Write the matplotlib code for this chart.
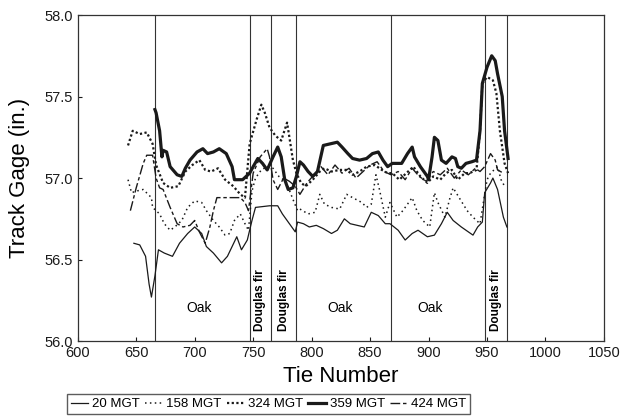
import matplotlib
matplotlib.use('Agg')
import matplotlib.pyplot as plt

plt.rcParams['font.family'] = ['Liberation Sans', 'DejaVu Sans']

# 20 MGT
x20 = [648, 653, 658, 661, 663, 666, 669, 674, 681, 687, 694, 700, 706, 710, 716, 723, 728, 736, 740, 745, 749,
       752, 764, 771, 775, 781, 786, 788, 793, 798, 804, 810, 817, 822, 828, 833, 839, 845, 851, 857, 863, 867,
       874, 880, 886, 891, 899, 905, 911, 916, 921, 928, 934, 938, 942, 946, 948, 953, 955, 959, 964, 967]
y20 = [56.60, 56.59, 56.52, 56.35, 56.27, 56.40, 56.56, 56.54, 56.52, 56.60, 56.66, 56.70, 56.66, 56.58, 56.54,
       56.48, 56.52, 56.64, 56.56, 56.62, 56.74, 56.82, 56.83, 56.83, 56.78, 56.72, 56.67, 56.73, 56.72, 56.70,
       56.71, 56.69, 56.66, 56.68, 56.75, 56.72, 56.71, 56.70, 56.79, 56.77, 56.72, 56.72, 56.68, 56.62, 56.66,
       56.68, 56.64, 56.65, 56.72, 56.79, 56.74, 56.70, 56.67, 56.65, 56.70, 56.73, 56.91, 56.97, 57.00, 56.93,
       56.76, 56.70]

# 158 MGT
x158 = [643, 646, 650, 656, 663, 664, 670, 674, 679, 683, 689, 694, 700, 706, 710, 716, 721, 726, 730, 734,
        739, 743, 746, 749, 752, 757, 762, 767, 772, 778, 784, 788, 790, 797, 803, 807, 811, 817, 824, 830,
        835, 843, 847, 851, 855, 858, 863, 867, 873, 878, 886, 890, 895, 901, 905, 908, 914, 918, 921, 927,
        933, 938, 944, 950, 953, 959, 962, 965]
y158 = [56.99, 56.91, 56.92, 56.93, 56.88, 56.82, 56.78, 56.72, 56.68, 56.70, 56.74, 56.82, 56.86, 56.85, 56.80,
        56.74, 56.70, 56.65, 56.66, 56.74, 56.78, 56.72, 56.68, 56.92, 57.00, 57.05, 57.07, 57.06, 57.01, 56.98,
        56.87, 56.80, 56.81, 56.78, 56.79, 56.90, 56.84, 56.82, 56.81, 56.90, 56.88, 56.85, 56.82, 56.84, 57.02,
        56.93, 56.76, 56.85, 56.76, 56.80, 56.88, 56.80, 56.74, 56.70, 56.91, 56.85, 56.76, 56.87, 56.94, 56.87,
        56.80, 56.76, 56.72, 56.99, 57.03, 57.07, 56.99, 56.95]

# 324 MGT
x324 = [643, 647, 653, 659, 664, 667, 673, 679, 686, 692, 698, 704, 709, 714, 720, 726, 733, 739, 743, 747,
        753, 757, 760, 764, 769, 774, 779, 781, 784, 787, 791, 795, 801, 807, 811, 817, 824, 830, 835, 841,
        847, 854, 860, 865, 869, 875, 881, 887, 893, 899, 904, 910, 915, 920, 925, 931, 935, 941, 944, 946,
        950, 955, 958, 961, 965, 968]
y324 = [57.20, 57.29, 57.27, 57.28, 57.21, 57.08, 56.97, 56.94, 56.95, 57.04, 57.08, 57.11, 57.05, 57.04, 57.06,
        56.99, 56.95, 56.90, 56.88, 57.21, 57.36, 57.45, 57.40, 57.31, 57.26, 57.23, 57.34, 57.25, 57.11, 57.03,
        56.97, 56.95, 56.99, 57.04, 57.06, 57.04, 57.05, 57.05, 57.02, 57.04, 57.07, 57.08, 57.05, 57.03, 57.03,
        56.99, 57.03, 57.07, 57.01, 56.97, 57.01, 56.99, 57.03, 57.05, 56.99, 57.03, 57.03, 57.05, 57.29, 57.58,
        57.62, 57.60, 57.52, 57.29, 57.09, 57.03]

# 359 MGT
x359 = [666, 667, 670, 672, 673, 676, 679, 685, 689, 692, 696, 702, 707, 711, 716, 721, 727, 732, 734, 741,
        747, 750, 754, 758, 762, 767, 771, 774, 777, 780, 784, 787, 790, 793, 797, 801, 805, 810, 816, 822,
        826, 831, 835, 841, 847, 852, 857, 861, 865, 869, 877, 882, 886, 888, 893, 899, 900, 903, 905, 908,
        911, 915, 920, 923, 925, 928, 932, 937, 941, 944, 946, 950, 954, 957, 959, 963, 965, 968]
y359 = [57.42, 57.40, 57.29, 57.13, 57.17, 57.16, 57.07, 57.02, 57.01, 57.06, 57.11, 57.16, 57.18, 57.15, 57.16,
        57.18, 57.15, 57.07, 56.99, 56.99, 57.03, 57.07, 57.12, 57.09, 57.05, 57.13, 57.19, 57.13, 56.99, 56.93,
        56.94, 57.01, 57.10, 57.08, 57.04, 57.01, 57.04, 57.20, 57.21, 57.22, 57.19, 57.15, 57.12, 57.11, 57.12,
        57.15, 57.16, 57.11, 57.07, 57.09, 57.09, 57.15, 57.19, 57.13, 57.07, 57.01, 56.99, 57.13, 57.25, 57.23,
        57.11, 57.09, 57.13, 57.12, 57.07, 57.06, 57.09, 57.10, 57.11, 57.29, 57.58, 57.68, 57.75, 57.72, 57.64,
        57.50, 57.29, 57.12]

# 424 MGT
x424 = [645, 650, 656, 659, 664, 667, 670, 673, 679, 685, 690, 696, 700, 704, 709, 713, 716, 719, 730, 739,
        743, 746, 750, 756, 762, 764, 767, 771, 776, 781, 786, 790, 796, 802, 808, 814, 820, 826, 832, 838,
        844, 850, 856, 862, 868, 874, 880, 886, 892, 898, 904, 910, 916, 922, 928, 934, 940, 944, 948, 953,
        957, 959, 964]
y424 = [56.80, 56.94, 57.09, 57.14, 57.14, 57.00, 56.94, 56.93, 56.82, 56.72, 56.70, 56.71, 56.74, 56.67, 56.60,
        56.70, 56.80, 56.88, 56.88, 56.88, 56.85, 56.80, 57.03, 57.13, 57.18, 57.13, 56.99, 56.93, 57.00, 56.98,
        56.95, 56.90, 56.97, 57.02, 57.07, 57.02, 57.08, 57.03, 57.06, 57.00, 57.04, 57.08, 57.10, 57.04, 57.02,
        57.04, 56.99, 57.06, 57.01, 56.98, 57.04, 57.02, 57.06, 57.00, 57.05, 57.02, 57.06, 57.04, 57.07, 57.15,
        57.11, 57.05, 57.03]

# wood type zones
boundaries = [666, 747, 765, 787, 868, 948, 967]
oak_x = [704, 824, 901]
fir_x = [756, 776, 958]

fig = plt.figure(figsize=(6.22, 4.17), dpi=100)
ax = fig.add_axes([0.125, 0.182, 0.846, 0.782])

for b in boundaries:
    ax.axvline(b, color='#333333', lw=0.8)

c = '#1a1a1a'
ax.plot(x20, y20, color=c, lw=0.9, label='20 MGT')
ax.plot(x158, y158, color=c, lw=1.1, linestyle=(0, (1, 2.2)), label='158 MGT')
ax.plot(x324, y324, color=c, lw=1.6, linestyle=(0, (1, 1.1)), label='324 MGT')
ax.plot(x359, y359, color=c, lw=2.3, label='359 MGT')
ax.plot(x424, y424, color=c, lw=1.0, linestyle=(0, (7, 2, 2.5, 2)), label='424 MGT')

for x in oak_x:
    ax.text(x, 56.2, 'Oak', ha='center', va='center', fontsize=10)
for x in fir_x:
    ax.text(x, 56.06, 'Douglas fir', ha='center', va='bottom', rotation=90,
            fontsize=8.5, fontweight='bold')

ax.set_xlim(600, 1050)
ax.set_ylim(56.0, 58.0)
ax.set_xticks(range(600, 1051, 50))
ax.set_yticks([56.0, 56.5, 57.0, 57.5, 58.0])
ax.set_yticklabels(['56.0', '56.5', '57.0', '57.5', '58.0'])
ax.tick_params(direction='in', length=3, labelsize=10.5, colors=c)
ax.set_xlabel('Tie Number', fontsize=16, labelpad=4)
ax.set_ylabel('Track Gage (in.)', fontsize=16, labelpad=10)
for s in ax.spines.values():
    s.set_linewidth(0.9)
    s.set_color('#333333')

fig.legend(loc='center', bbox_to_anchor=(0.432, 0.031), ncol=5, fontsize=9.5,
           frameon=True, fancybox=False, edgecolor='#333333', handlelength=1.3,
           handletextpad=0.3, columnspacing=0.4, borderpad=0.3)

fig.savefig('out.png', dpi=100)
